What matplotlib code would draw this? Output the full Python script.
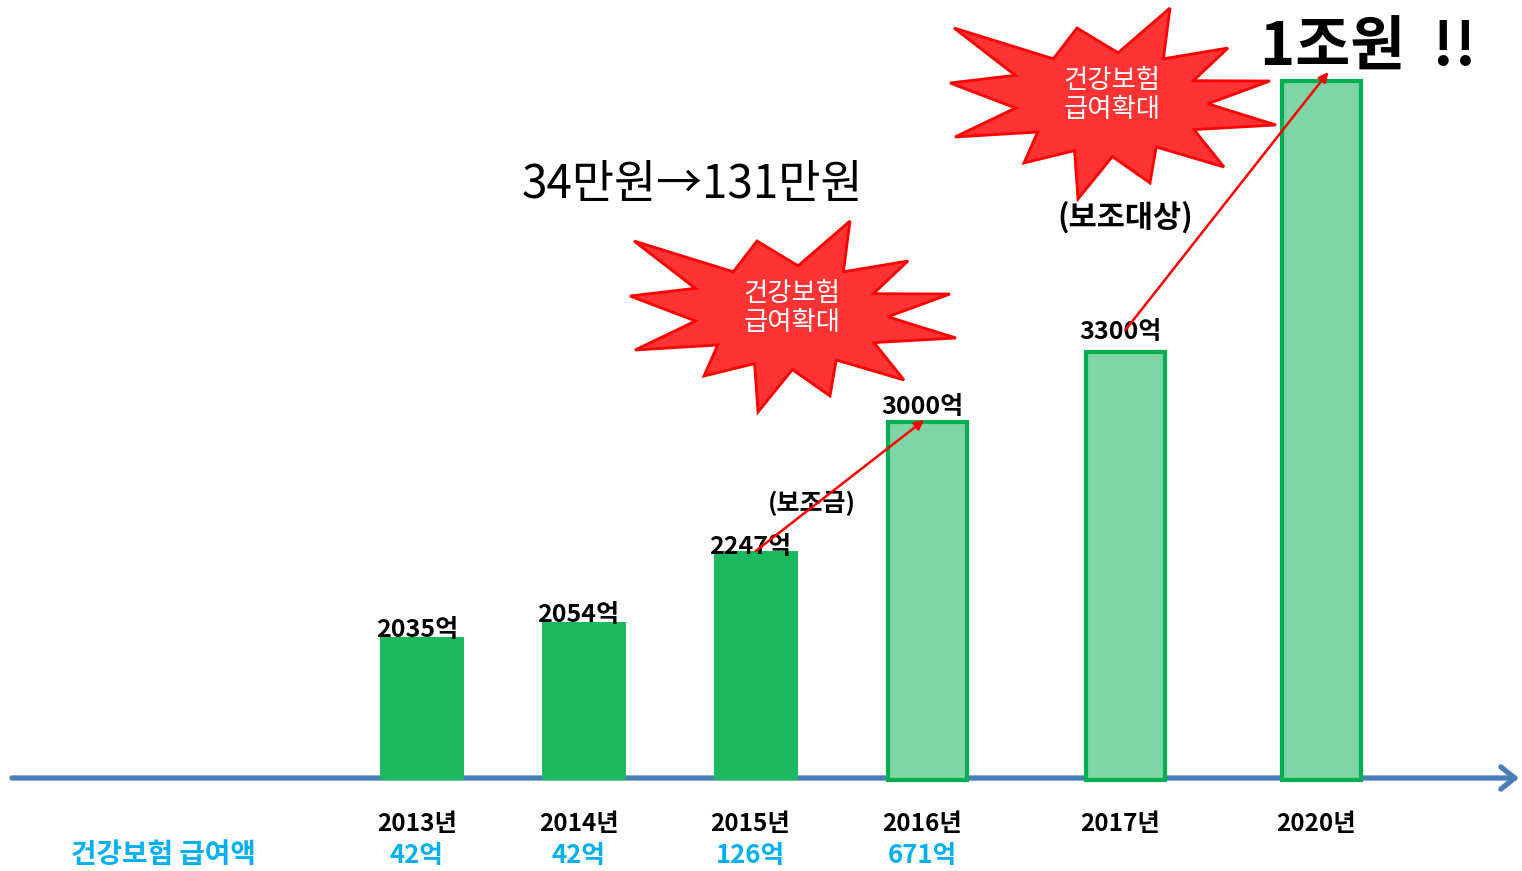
import numpy as np
import matplotlib
import matplotlib.pyplot as plt
from matplotlib.patches import Polygon

matplotlib.use('agg')

plt.rcParams['font.family'] = ['Noto Sans CJK KR', 'DejaVu Sans']

# 데이터
years = ['2013년', '2014년', '2015년', '2016년', '2017년', '2020년']
amounts = [2035, 2054, 2247, 3000, 3300, 10000]  # 억원
amount_labels = ['2035억', '2054억', '2247억', '3000억', '3300억', '1조원  !!']
bar_heights = [141, 156, 227, 356, 426, 697]  # 그림에서 읽은 막대 높이 (비례 아님)
benefit_title = '건강보험 급여액'
benefit_labels = ['42억', '42억', '126억', '671억']
projected = [False, False, False, True, True, True]

# 레이아웃
x_pos = [0, 0.94, 1.94, 2.94, 4.09, 5.23]
label_gap = [-5, -5, -8, 3, 8]  # 막대 위 라벨 간격 (px)
PX_X = 172.0  # x 1단위당 픽셀
W, H = 1522, 871
BASE_PX, LEFT_PX = 778, 422


def px(xp, yp):
    # 픽셀 좌표 -> 데이터 좌표
    return (xp - LEFT_PX) / PX_X, BASE_PX - yp


STAR_TIPS = [(-156, 77), (-33, 77), (60, 97), (118, 57), (160, 24), (166, -20),
             (114, -62), (40, -78), (-32, -94), (-86, -58), (-155, -32), (-160, 22)]


def starburst(ax, cx, cy, text):
    tips = np.array(STAR_TIPS, float)
    inner = (tips + np.roll(tips, -1, axis=0)) / 2 * 0.6
    verts = np.empty((len(tips) * 2, 2))
    verts[0::2] = tips
    verts[1::2] = inner
    verts[:, 0] = cx + verts[:, 0] / PX_X
    verts[:, 1] = cy + verts[:, 1]
    ax.add_patch(Polygon(verts, closed=True, facecolor='#FF3333', edgecolor='#FF0000',
                         lw=2, zorder=4))
    ax.text(cx + 0.01, cy + 10, text, ha='center', va='center', color='white', fontsize=19,
            linespacing=1.1, zorder=5)


fig = plt.figure(figsize=(W / 100, H / 100), dpi=100)
ax = fig.add_axes([0, 0, 1, 1])
ax.set_xlim(px(0, 0)[0], px(W, 0)[0])
ax.set_ylim(px(0, H)[1], px(0, 0)[1])
ax.axis('off')

# 가로축 화살표
ax.annotate('', xy=px(1519, BASE_PX), xytext=px(12, BASE_PX),
            arrowprops=dict(arrowstyle='->,head_length=1.0,head_width=0.8',
                            color='#4A7EBB', lw=3.8, shrinkA=0, shrinkB=0), zorder=1)

# 막대
for i in range(len(years)):
    if projected[i]:
        ax.bar(x_pos[i], bar_heights[i] + 2, width=0.46, bottom=-2, color='#80D5A6',
               edgecolor='#00B050', linewidth=3, zorder=2)
    else:
        ax.bar(x_pos[i], bar_heights[i] + 2, width=0.49, bottom=-2, color='#1DB960',
               edgecolor='none', zorder=2)

# 금액 라벨
for i in range(len(years) - 1):
    ax.text(x_pos[i] - 0.03, bar_heights[i] + label_gap[i], amount_labels[i], ha='center',
            va='bottom', fontsize=18, fontweight='bold', zorder=6)
ax.text(x_pos[-1] + 0.27, bar_heights[-1] + 33, amount_labels[-1], ha='center',
        va='center', fontsize=43, fontweight='bold', zorder=6)

# 연도 / 급여액
for i, y in enumerate(years):
    ax.text(x_pos[i] - 0.03, -46, y, ha='center', va='center', fontsize=17.5,
            fontweight='bold')
for i, b in enumerate(benefit_labels):
    ax.text(x_pos[i] - 0.03, -77, b, ha='center', va='center', fontsize=18.5,
            fontweight='bold', color='#00B0F0')
ax.text(*px(163, 855), benefit_title, ha='center', va='center', fontsize=20,
        fontweight='bold', color='#00B0F0')

# 폭발 모양
starburst(ax, *px(790, 318), '건강보험\n급여확대')
starburst(ax, *px(1110, 105), '건강보험\n급여확대')

# 빨간 화살표
ax.annotate('', xy=(x_pos[3] - 0.02, bar_heights[3] + 2), xytext=(x_pos[2], bar_heights[2]),
            arrowprops=dict(arrowstyle='-|>', color='#FF0000', lw=1.8, mutation_scale=14,
                            shrinkA=0, shrinkB=0), zorder=7)
ax.annotate('', xy=(x_pos[5] + 0.04, bar_heights[5] + 9), xytext=(x_pos[4], bar_heights[4] + 22),
            arrowprops=dict(arrowstyle='-|>', color='#FF0000', lw=1.8, mutation_scale=14,
                            shrinkA=0, shrinkB=0), zorder=7)

ax.text(*px(812, 503), '(보조금)', ha='center', va='center', fontsize=18,
        fontweight='bold', zorder=6)
ax.text(*px(1125, 217), '(보조대상)', ha='center', va='center', fontsize=22,
        fontweight='bold', zorder=6)
ax.text(*px(692, 185), '34만원→131만원', ha='center', va='center', fontsize=33, zorder=6)

fig.savefig('out.png', dpi=100, facecolor='white')
